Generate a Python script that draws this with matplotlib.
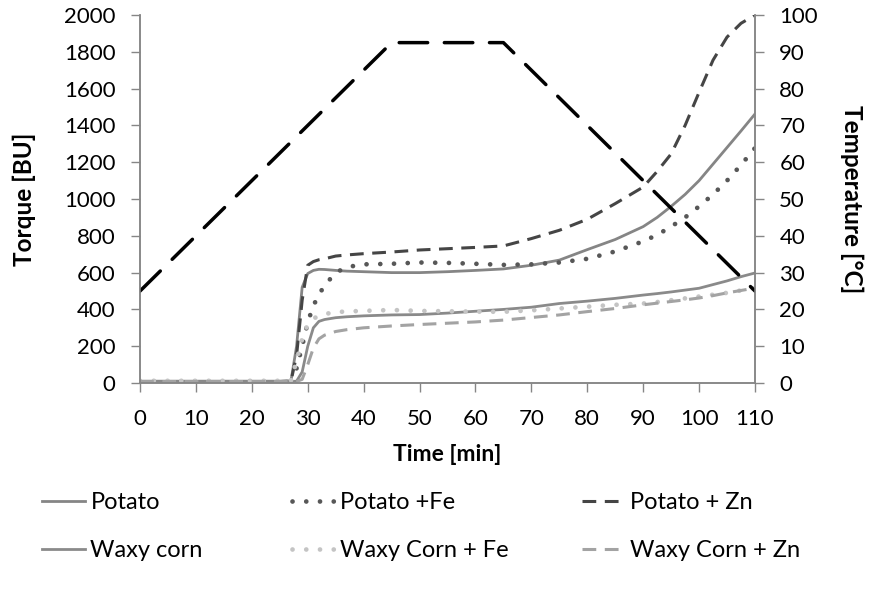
import matplotlib
matplotlib.use("Agg")
import matplotlib.pyplot as plt

plt.rcParams['font.family'] = ['Lato', 'DejaVu Sans']

# time axis [min], shared by all torque curves
t = [0, 5, 10, 15, 20, 25, 27, 28, 29, 30, 31, 32, 33, 35, 37, 40, 45, 50,
     55, 60, 65, 70, 75, 80, 85, 90, 92.5, 95, 97.5, 100, 102.5, 105, 107.5,
     110]

# torque [BU]
potato = [10, 10, 10, 10, 10, 10, 12, 200, 520, 595, 612, 618, 617, 612, 608,
          605, 600, 600, 605, 612, 620, 640, 668, 725, 780, 850, 900, 960,
          1025, 1100, 1190, 1280, 1370, 1462]
potato_fe = [8, 8, 8, 8, 8, 8, 10, 80, 200, 330, 420, 480, 530, 600, 630,
             645, 648, 655, 653, 648, 642, 645, 655, 675, 715, 770, 805, 850,
             900, 960, 1025, 1100, 1185, 1277]
potato_zn = [8, 8, 8, 8, 8, 8, 10, 150, 450, 640, 660, 670, 675, 690, 696,
             703, 712, 723, 730, 737, 745, 785, 830, 890, 975, 1065, 1150,
             1245, 1400, 1580, 1755, 1880, 1955, 2000]
waxy = [8, 8, 8, 8, 8, 8, 8, 10, 60, 200, 300, 335, 345, 355, 360, 365, 370,
        372, 380, 390, 400, 412, 432, 445, 460, 478, 486, 495, 505, 515, 535,
        555, 578, 598]
waxy_fe = [12, 12, 12, 12, 12, 12, 14, 120, 240, 320, 350, 365, 375, 385,
           389, 392, 397, 392, 390, 388, 387, 395, 405, 415, 425, 432, 440,
           450, 460, 470, 480, 490, 503, 516]
waxy_zn = [8, 8, 8, 8, 8, 8, 8, 8, 20, 100, 190, 240, 260, 280, 290, 300, 310,
           318, 325, 332, 342, 356, 370, 388, 405, 425, 434, 443, 452, 462,
           475, 490, 503, 516]

# temperature programme [°C]
t_temp = [0, 45, 65, 110]
temp = [25, 92.5, 92.5, 25]

fig = plt.figure(figsize=(8.72, 5.94), dpi=100)
ax = fig.add_axes([0.1606, 0.3552, 0.7052, 0.6195])
ax2 = ax.twinx()

dot = (0, (0.01, 2.9))
dash = (0, (4.5, 2.8))
lp, = ax.plot(t, potato, color='#858585', lw=2.0, label='Potato')
lfe, = ax.plot(t, potato_fe, color='#575757', lw=3.4, ls=dot,
               dash_capstyle='round', label='Potato +Fe')
lzn, = ax.plot(t, potato_zn, color='#454545', lw=2.2, ls=dash,
               label='Potato + Zn')
lw_, = ax.plot(t, waxy, color='#8a8a8a', lw=2.0, label='Waxy corn')
lwfe, = ax.plot(t, waxy_fe, color='#c4c4c4', lw=3.4, ls=dot,
                dash_capstyle='round', label='Waxy Corn + Fe')
lwzn, = ax.plot(t, waxy_zn, color='#a3a3a3', lw=2.2, ls=dash,
                label='Waxy Corn + Zn')

ax2.plot(t_temp, temp, color='black', lw=2.5, ls=(0, (8.2, 4.8)),
         dash_capstyle='round', solid_joinstyle='round')

ax.set_xlim(0, 110)
ax.set_ylim(0, 2000)
ax2.set_ylim(0, 100)
ax.set_xticks(range(0, 111, 10))
ax.set_yticks(range(0, 2001, 200))
ax2.set_yticks(range(0, 101, 10))

spine_c = '#868686'
for a in (ax, ax2):
    a.spines['top'].set_visible(False)
    for side in ('left', 'right', 'bottom'):
        a.spines[side].set_color(spine_c)
        a.spines[side].set_linewidth(1.1)
    a.tick_params(colors=spine_c, labelcolor='black', labelsize=16,
                  length=6.5, width=1.0, direction='out')
ax.tick_params(axis='x', pad=12)
ax.tick_params(axis='y', pad=11)
ax2.tick_params(axis='y', pad=11)

ax.set_xlabel('Time [min]', fontsize=16.5, fontweight='bold', labelpad=11)
ax.set_ylabel('Torque [BU]', fontsize=17.5, fontweight='bold', labelpad=20)
ax2.set_ylabel('Temperature [°C]', fontsize=17.5, fontweight='bold',
               rotation=270, labelpad=33)

# legend: three columns of two entries each
cols = [(lp, lw_), (lfe, lwfe), (lzn, lwzn)]
xs = [42, 292, 582]
for (h1, h2), x in zip(cols, xs):
    fig.legend([h1, h2], [h1.get_label(), h2.get_label()],
               loc='upper left', bbox_to_anchor=(x / 872, 1 - 492 / 594),
               borderaxespad=0, frameon=False, fontsize=17,
               handlelength=1.8, handletextpad=0.25, labelspacing=1.15,
               borderpad=0)

fig.savefig('out.png', dpi=100)
